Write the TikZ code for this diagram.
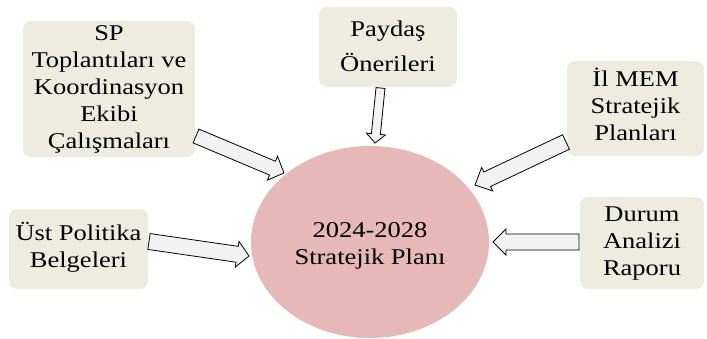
\documentclass[tikz,border=0pt]{standalone}
\usepackage{fontspec}
\setmainfont{Liberation Serif}
\usetikzlibrary{calc,shapes.geometric}
\definecolor{boxcol}{HTML}{EEECE1}
\definecolor{plancol}{HTML}{E6B8B7}
\definecolor{arrcol}{HTML}{F2F2F2}
\newcommand\bxt[2][31.8]{\scalebox{1}[0.85]{\fontsize{26.5}{#1}\selectfont\begin{tabular}{@{}c@{}}#2\end{tabular}}}
\newcommand\blockarr[5]{%
 \draw[blockarrow] ($(#1)!#3!90:(#2)$) -- ($($(#2)!#5!(#1)$)!#3!-90:(#1)$) -- ($($(#2)!#5!(#1)$)!#4!-90:(#1)$) -- (#2) -- ($($(#2)!#5!(#1)$)!#4!90:(#1)$) -- ($($(#2)!#5!(#1)$)!#3!90:(#1)$) -- ($(#1)!#3!-90:(#2)$) -- cycle;}
\tikzset{
 infobox/.style={rounded corners=8pt, fill=boxcol, inner sep=0pt},
 blockarrow/.style={draw=black, fill=arrcol, line width=0.8pt, line join=miter}
}
\begin{document}
\begin{tikzpicture}[x=1pt,y=-1pt]
\useasboundingbox (0,0) rectangle (707,338);
\node[ellipse, fill=plancol, minimum width=238pt, minimum height=192pt, inner sep=0pt] (plan) at (370,242) {};
\node (plantxt) at (370,246) {\bxt{2024-2028\\Stratejik Planı}};
\node[infobox, minimum width=172pt, minimum height=136pt] (sp) at (109,89) {\bxt{SP\\Toplantıları ve\\Koordinasyon\\Ekibi\\Çalışmaları}};
\node[infobox, minimum width=138pt, minimum height=80pt] (pay) at (388,47) {\bxt[42]{Paydaş\\Önerileri}};
\node[infobox, minimum width=137pt, minimum height=95pt] (il) at (635.5,108.5) {\bxt{İl MEM\\Stratejik\\Planları}};
\node[infobox, minimum width=139pt, minimum height=80pt] (ust) at (78.5,249) {\bxt{Üst Politika\\Belgeleri}};
\node[infobox, minimum width=124pt, minimum height=92pt] (dur) at (642,243) {\bxt{Durum\\Analizi\\Raporu}};
\coordinate (a1s) at (196,136); \coordinate (a1t) at (284,173);
\coordinate (a2s) at (380.5,88); \coordinate (a2t) at (375,143);
\coordinate (a3s) at (566,142); \coordinate (a3t) at (475,185);
\coordinate (a4s) at (149,241.5); \coordinate (a4t) at (249,256);
\coordinate (a5s) at (579,242); \coordinate (a5t) at (493,242);
\blockarr{a1s}{a1t}{7.5pt}{13pt}{12.5pt}
\blockarr{a2s}{a2t}{4.5pt}{9.5pt}{9pt}
\blockarr{a3s}{a3t}{8pt}{13pt}{13.5pt}
\blockarr{a4s}{a4t}{8pt}{13pt}{12pt}
\blockarr{a5s}{a5t}{8pt}{13pt}{13pt}
\end{tikzpicture}
\end{document}
